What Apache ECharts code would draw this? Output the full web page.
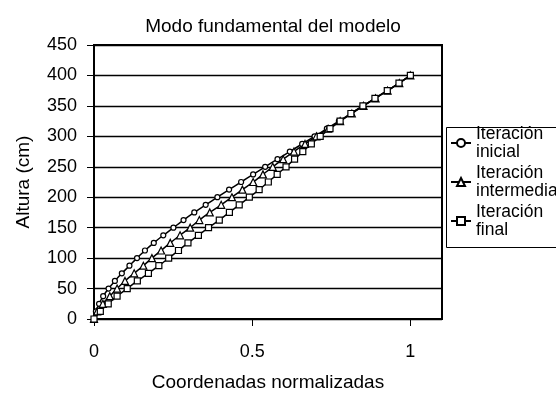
<!DOCTYPE html>
<html>
<head>
<meta charset="utf-8">
<script src="https://cdn.jsdelivr.net/npm/echarts@6/dist/echarts.min.js"></script>
<style>
  html, body { margin: 0; padding: 0; background: #fff; }
  #chart { width: 556px; height: 397px; }
</style>
</head>
<body>
<div id="chart"></div>
<script>
// Heights along the model (cm)
const altura = [0, 12.5, 25, 37.5, 50, 62.5, 75, 87.5, 100, 112.5, 125, 137.5, 150, 162.5,
  175, 187.5, 200, 212.5, 225, 237.5, 250, 262.5, 275, 287.5, 300, 312.5, 325, 337.5,
  350, 362.5, 375, 387.5, 400];

// Normalised modal coordinates for each iteration
const inicial = [0, 0.006, 0.016, 0.029, 0.046, 0.066, 0.088, 0.112, 0.136, 0.161, 0.189,
  0.219, 0.251, 0.283, 0.317, 0.353, 0.390, 0.427, 0.465, 0.503, 0.541, 0.580, 0.619,
  0.658, 0.697, 0.736, 0.774, 0.812, 0.850, 0.889, 0.927, 0.965, 1.0];
const intermedia = [0, 0.010, 0.028, 0.050, 0.073, 0.098, 0.127, 0.156, 0.183, 0.212, 0.241,
  0.272, 0.304, 0.333, 0.366, 0.402, 0.436, 0.469, 0.503, 0.534, 0.565, 0.598, 0.632,
  0.667, 0.703, 0.740, 0.778, 0.815, 0.852, 0.890, 0.928, 0.965, 1.0];
const final = [0, 0.020, 0.045, 0.073, 0.105, 0.137, 0.172, 0.205, 0.236, 0.267, 0.297,
  0.330, 0.362, 0.396, 0.428, 0.459, 0.491, 0.522, 0.551, 0.579, 0.607, 0.634, 0.660,
  0.687, 0.715, 0.746, 0.778, 0.812, 0.850, 0.888, 0.927, 0.964, 1.0];

const xTicks = [0, 0.5, 1];
const seriesNames = ['Iteración inicial', 'Iteración intermedia', 'Iteración final'];

const FONT = "'Liberation Sans', Arial, sans-serif";
const pairs = (xs) => xs.map((x, i) => [x, altura[i]]);

const chart = echarts.init(document.getElementById('chart'), null, { renderer: 'canvas' });

function lineSeries(name, values, symbol, size) {
  return {
    name: name,
    type: 'line',
    data: pairs(values),
    smooth: 0.3,
    symbol: symbol,
    symbolSize: size,
    showAllSymbol: true,
    lineStyle: { color: '#000', width: 1.5 },
    itemStyle: { color: '#fff', borderColor: '#000', borderWidth: 1.2 },
    emphasis: { disabled: true },
    z: 3
  };
}

chart.setOption({
  animation: false,
  backgroundColor: '#fff',
  textStyle: { fontFamily: FONT, color: '#000' },
  title: {
    text: 'Modo fundamental del modelo',
    left: 268,
    textAlign: 'center',
    top: 12,
    textStyle: { fontFamily: FONT, fontSize: 19, fontWeight: 'normal', color: '#000' }
  },
  grid: {
    left: 94, top: 45, width: 348, height: 278,
    show: true, borderColor: '#000', borderWidth: 2, backgroundColor: '#fff'
  },
  // frame around the legend entries
  graphic: [{
    type: 'rect',
    left: 446, top: 127, z: 1,
    shape: { width: 130, height: 120 },
    style: { fill: '#fff', stroke: '#000', lineWidth: 1 }
  }],
  legend: {
    orient: 'vertical',
    left: 450, top: 111,
    padding: 0,
    itemGap: -25,
    itemWidth: 20, itemHeight: 10,
    data: seriesNames,
    formatter: (n) => n.replace(' ', '\n'),
    textStyle: {
      fontFamily: FONT, fontSize: 17.5, color: '#000',
      lineHeight: 18, padding: [28, 0, 0, 0]
    },
    selectedMode: false
  },
  xAxis: {
    type: 'value',
    min: 0, max: 1.1, interval: 0.5,
    name: 'Coordenadas normalizadas',
    nameLocation: 'middle',
    nameGap: 54,
    nameTextStyle: { fontFamily: FONT, fontSize: 19, color: '#000' },
    axisLine: { show: true, lineStyle: { color: '#000', width: 2 } },
    axisTick: { show: true, inside: false, length: 7, customValues: xTicks, lineStyle: { color: '#000', width: 1 } },
    axisLabel: { customValues: xTicks, margin: 24, fontFamily: FONT, fontSize: 18, color: '#000' },
    splitLine: { show: false }
  },
  yAxis: {
    type: 'value',
    min: 0, max: 450, interval: 50,
    name: 'Altura (cm)',
    nameLocation: 'middle',
    nameGap: 61,
    nameTextStyle: { fontFamily: FONT, fontSize: 19, color: '#000' },
    axisLine: { show: true, lineStyle: { color: '#000', width: 2 } },
    axisTick: { show: true, inside: false, length: 7, lineStyle: { color: '#000', width: 1 } },
    axisLabel: { margin: 17, fontFamily: FONT, fontSize: 18, color: '#000' },
    splitLine: { show: true, lineStyle: { color: '#000', width: 1.3 } }
  },
  series: [
    lineSeries(seriesNames[0], inicial, 'circle', 5),
    lineSeries(seriesNames[1], intermedia, 'triangle', 7),
    lineSeries(seriesNames[2], final, 'rect', 6)
  ]
});
</script>
</body>
</html>
